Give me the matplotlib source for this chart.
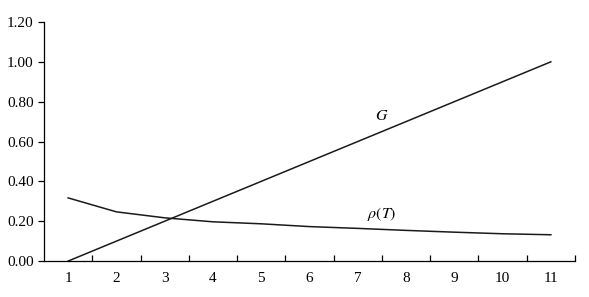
import matplotlib.pyplot as plt
import numpy as np

plt.rcParams['font.family'] = ['Liberation Serif', 'DejaVu Serif']
plt.rcParams['mathtext.fontset'] = 'stix'

periods = [1, 2, 3, 4, 5, 6, 7, 8, 9, 10, 11]
g_vals = [0.0, 0.1, 0.2, 0.3, 0.4, 0.5, 0.6, 0.7, 0.8, 0.9, 1.0]
rho_vals = [0.317, 0.247, 0.217, 0.197, 0.187, 0.173, 0.164, 0.154, 0.145, 0.137, 0.132]

fig = plt.figure(figsize=(5.89, 2.97), dpi=100)
ax = fig.add_axes([0.0747, 0.121, 0.9015, 0.805])

ax.plot(periods, g_vals, color='#1a1a1a', linewidth=1.1)
ax.plot(periods, rho_vals, color='#1a1a1a', linewidth=1.1)

ax.text(7.5, 0.73, r'$G$', fontsize=11.5, ha='center', va='center')
ax.text(7.5, 0.235, r'$\rho(T)$', fontsize=11.5, ha='center', va='center')

ax.set_xlim(0.5, 11.5)
ax.set_ylim(0, 1.2)
ax.set_yticks(np.arange(0, 1.21, 0.2))
ax.set_yticklabels([f'{v:.2f}' for v in np.arange(0, 1.21, 0.2)])
ax.set_xticks(periods)
ax.set_xticks(np.arange(1.5, 11.6, 1), minor=True)

ax.tick_params(axis='x', which='major', length=0, pad=8, labelsize=11)
ax.tick_params(axis='x', which='minor', direction='in', length=4, width=0.9)
ax.tick_params(axis='y', direction='out', length=4, width=0.9, labelsize=11)

for s in ['top', 'right']:
    ax.spines[s].set_visible(False)
for s in ['left', 'bottom']:
    ax.spines[s].set_linewidth(0.9)

fig.savefig('out.png', dpi=100)
